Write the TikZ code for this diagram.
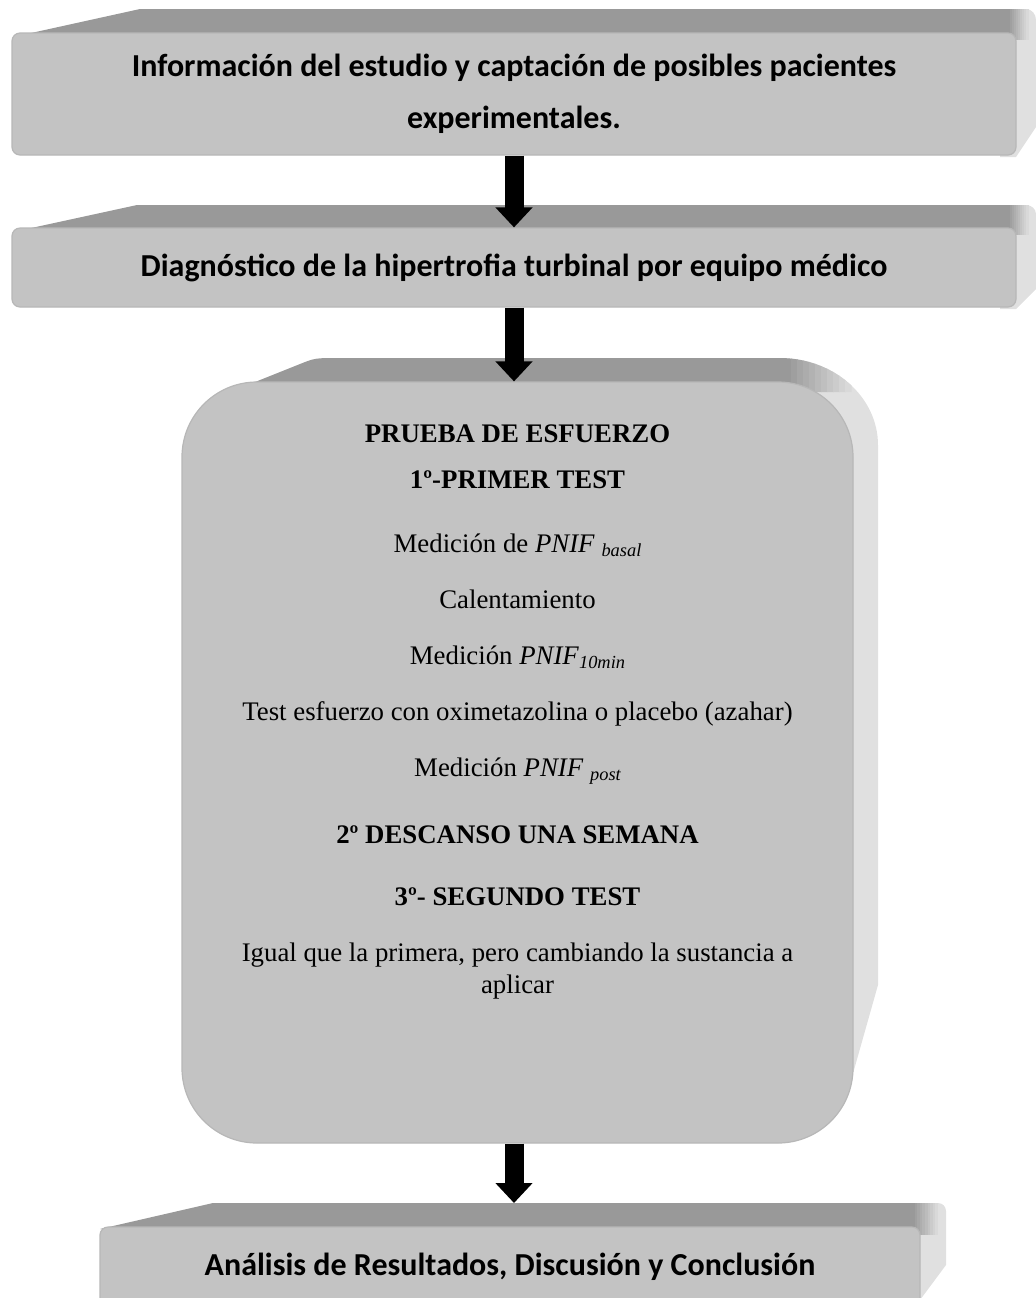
\documentclass[tikz,border=0pt]{standalone}
\usepackage{fontspec}
\setmainfont{Liberation Serif}
\newfontfamily\carlito{Carlito}
\usetikzlibrary{arrows.meta}
\definecolor{facegray}{RGB}{195,195,195}
\definecolor{edgegray}{RGB}{183,183,183}
\definecolor{topgray}{RGB}{153,153,153}
\definecolor{sidegray}{RGB}{224,224,224}
\newcommand{\idx}[1]{\raisebox{-0.4ex}{\fontsize{9.2}{9.2}\selectfont\itshape #1}}

\begin{document}
\begin{tikzpicture}[x=0.5pt, y=-0.5pt,
  box/.style = {draw=edgegray, fill=facegray, line width=0.6pt, rounded corners=4pt, align=center, font=\carlito\bfseries\fontsize{16}{26}\selectfont},
  line/.style = {anchor=base, inner sep=0pt, font=\fontsize{13.4}{16}\selectfont},
  bigarrow/.style = {line width=9.5pt, -{Triangle[length=10pt, width=18pt]}}]
\useasboundingbox (0,0) rectangle (1036,1298);

% bevels behind the boxes
\fill[sidegray] (1000,33) -- (1026,9) to[out=0, in=90] (1036,20) -- (1036,127) -- (1016,157) -- (1000,157) -- cycle;
\fill[topgray] (22,35) -- (140,9) -- (1008,9) -- (1008,40) -- cycle;
\foreach \i in {0,...,9} {
  \pgfmathtruncatemacro\c{100-\i*10}
  \fill[topgray!\c!sidegray] (1008+\i*2,9) -- (1010.5+\i*2,9) -- (1010.5+\i*2,40) -- (1008+\i*2,40) -- cycle;
}
\fill[sidegray] (1000,228) -- (1026,205) to[out=0, in=90] (1036,214) -- (1036,289) -- (1016,309) -- (1000,309) -- cycle;
\fill[topgray] (22,230) -- (137,205) -- (1008,205) -- (1008,235) -- cycle;
\foreach \i in {0,...,9} {
  \pgfmathtruncatemacro\c{100-\i*10}
  \fill[topgray!\c!sidegray] (1008+\i*2,205) -- (1010.5+\i*2,205) -- (1010.5+\i*2,235) -- (1008+\i*2,235) -- cycle;
}
\fill[sidegray] (780,358) .. controls (834,358) and (878,397) .. (878,445) -- (878,985) -- (852,1077) -- (800,1077) -- (800,390) -- (780,390) -- cycle;
\fill[topgray] (240,388) -- (300,364) .. controls (315,358) .. (340,358) -- (786,358) -- (786,395) -- cycle;
\foreach \i in {0,...,10} {
  \pgfmathtruncatemacro\c{100-\i*9}
  \pgfmathsetmacro\xa{785+\i*6}
  \pgfmathsetmacro\xb{\xa+6.5}
  \pgfmathsetmacro\ya{445-87*sqrt(max(0,1-((\xa-780)/98)^2))}
  \pgfmathsetmacro\yb{445-87*sqrt(max(0,1-((\xb-780)/98)^2))}
  \fill[topgray!\c!sidegray] (\xa,\ya) -- (\xb,\yb) -- (\xb,392) -- (\xa,392) -- cycle;
}
\fill[sidegray] (900,1227) -- (938,1203) to[out=0, in=90] (946,1211) -- (946,1265) -- (920,1300) -- (900,1300) -- cycle;
\fill[topgray] (100,1229) -- (213,1203) -- (912,1203) -- (912,1235) -- cycle;
\foreach \i in {0,...,9} {
  \pgfmathtruncatemacro\c{100-\i*10}
  \fill[topgray!\c!sidegray] (912+\i*2.6,1203) -- (915+\i*2.6,1203) -- (915+\i*2.6,1235) -- (912+\i*2.6,1235) -- cycle;
}

% boxes
\node[box, minimum width=502pt, minimum height=61pt] (info) at (514,94)
  {Información del estudio y captación de posibles pacientes\\experimentales.};
\node[box, minimum width=502pt, minimum height=39.5pt] (diag) at (514,267.5)
  {Diagnóstico de la hipertrofia turbinal por equipo médico};
\node[box, rounded corners=37.5pt, minimum width=335.5pt, minimum height=380.5pt] (test) at (517.5,762.5) {};
\node[box, minimum width=410pt, minimum height=39.5pt] (analysis) at (510,1266.5)
  {Análisis de Resultados, Discusión y Conclusión};
\coordinate (antop) at (514,1203);

% text of the test box
\node[line] (t1) at (517.5,442) {\bfseries PRUEBA DE ESFUERZO};
\node[line] (t2) at (517.5,488) {\bfseries 1º-PRIMER TEST};
\node[line] (t3) at (517.5,552) {Medición de \textit{PNIF} \idx{basal}};
\node[line] (t4) at (517.5,608) {Calentamiento};
\node[line] (t5) at (517.5,664) {Medición \textit{PNIF}\idx{10min}};
\node[line] (t6) at (517.5,720) {Test esfuerzo con oximetazolina o placebo (azahar)};
\node[line] (t7) at (517.5,776) {Medición \textit{PNIF} \idx{post}};
\node[line] (t8) at (517.5,843) {\bfseries 2º DESCANSO UNA SEMANA};
\node[line] (t9) at (517.5,905) {\bfseries 3º- SEGUNDO TEST};
\node[line] (t10) at (517.5,961) {Igual que la primera, pero cambiando la sustancia a};
\node[line] (t11) at (517.5,993) {aplicar};

% arrows
\draw[bigarrow] (info.south) -- (diag.north);
\draw[bigarrow] (diag.south) -- (info.south |- test.north);
\draw[bigarrow] (info.south |- test.south) -- (antop);
\end{tikzpicture}
\end{document}
